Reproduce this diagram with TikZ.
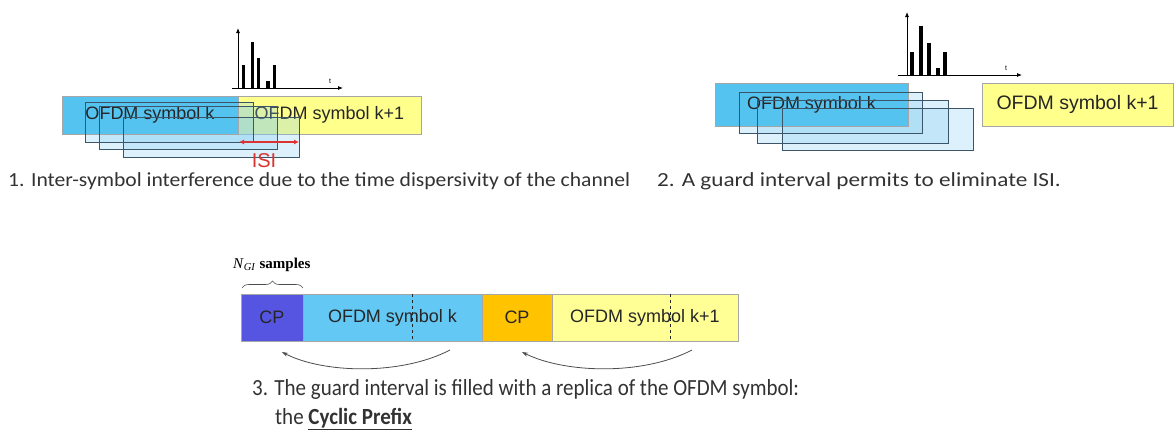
\documentclass[tikz,border=0pt]{standalone}
\usepackage{fontspec}
\setmainfont{Carlito}
\newfontfamily\arialf{Liberation Sans}
\newfontfamily\timesf{Liberation Serif}
\usetikzlibrary{arrows.meta,decorations.pathreplacing}
\definecolor{pblue}{RGB}{85,195,240}
\definecolor{pyel}{RGB}{255,255,140}
\definecolor{ghost}{RGB}{130,205,240}
\definecolor{ostroke}{RGB}{60,85,105}
\definecolor{cpviolet}{RGB}{85,85,225}
\definecolor{cporange}{RGB}{255,195,0}
\definecolor{p3blue}{RGB}{100,200,245}
\definecolor{p3yel}{RGB}{255,255,150}
\definecolor{captxt}{RGB}{50,50,50}
\definecolor{isired}{RGB}{220,50,50}
\tikzset{
  symbox/.style={draw=gray!70, line width=0.5pt, inner sep=0pt, outer sep=0pt, anchor=north west,
    font=\arialf\fontsize{18}{20}\selectfont, text=black!85},
  ghostbox/.style={inner sep=0pt, outer sep=0pt, anchor=north west, fill=ghost, fill opacity=0.28},
  ghostline/.style={draw=ostroke, line width=0.7pt},
  axisarrow/.style={line width=0.8pt, -{Latex[length=5pt,width=4pt]}},
  bar/.style={fill=black, draw=none},
  caption/.style={anchor=base west, inner sep=0pt, text=captxt},
  curvearrow/.style={draw=black!70, line width=0.8pt, -{Stealth[length=6pt,width=4pt]}}
}
\begin{document}
\begin{tikzpicture}[x=1pt,y=-1pt]
\useasboundingbox (0,0) rectangle (1176,432);
% ---------- Panel 1 ----------
\node[symbox, fill=pyel, minimum width=183, minimum height=38] (y1) at (238,96) {OFDM symbol k+1};
\node[ghostbox, minimum width=168, minimum height=40] (g1a) at (85,102) {};
\node[ghostbox, minimum width=178, minimum height=43] (g1b) at (99,106) {};
\node[ghostbox, minimum width=176, minimum height=40] (g1c) at (123,117) {};
\node[symbox, fill=pblue, minimum width=176, minimum height=38] (b1) at (62,96) {OFDM symbol k};
\draw[ghostline] (g1a.north west) rectangle (g1a.south east);
\draw[ghostline] (g1b.north west) rectangle (g1b.south east);
\draw[ghostline] (g1c.north west) rectangle (g1c.south east);
% axes
\coordinate (o1) at (238,88);
\coordinate (o1top) at (238,28);
\coordinate (o1l) at (232,88);
\coordinate (o1r) at (343,88);
\draw[axisarrow] (o1) -- (o1top);
\draw[axisarrow] (o1l) -- (o1r);
\node[font=\arialf\fontsize{7}{8}\selectfont, inner sep=0pt] (t1) at (330,81) {t};
\fill[bar] (241.5,88) rectangle (244.5,65);
\fill[bar] (250.5,88) rectangle (253.5,42);
\fill[bar] (256.5,88) rectangle (259.5,58);
\fill[bar] (266,88) rectangle (270,81);
\fill[bar] (272.5,88) rectangle (275.5,65);
% ISI
\coordinate (isiL) at (239,142);
\coordinate (isiR) at (299,142);
\draw[isired, line width=1.2pt, {Latex[length=5pt,width=5pt]}-{Latex[length=5pt,width=5pt]}] (isiL) -- (isiR);
\node[text=isired, font=\arialf\fontsize{20}{22}\selectfont, inner sep=0pt] (isi) at (264,161) {ISI};
\node[caption, font=\fontsize{20}{22}\selectfont] (cap1) at (8,186) {\scalebox{1.08}[1]{1. Inter-symbol interference due to the time dispersivity of the channel}};
% ---------- Panel 2 ----------
\node[ghostbox, minimum width=183, minimum height=41] (g2a) at (739,92) {};
\node[ghostbox, minimum width=191, minimum height=43] (g2b) at (757,100) {};
\node[ghostbox, minimum width=191, minimum height=42] (g2c) at (782,108) {};
\node[symbox, fill=pblue, minimum width=193, minimum height=43] (b2) at (715,83) {OFDM symbol k};
\draw[ghostline] (g2a.north west) rectangle (g2a.south east);
\draw[ghostline] (g2b.north west) rectangle (g2b.south east);
\draw[ghostline] (g2c.north west) rectangle (g2c.south east);
\node[symbox, fill=pyel, minimum width=191, minimum height=43, font=\arialf\fontsize{19.5}{22}\selectfont] (y2) at (982,83) {OFDM symbol k+1};
\coordinate (o2) at (907,75);
\coordinate (o2top) at (907,12);
\coordinate (o2l) at (898,75);
\coordinate (o2r) at (1022,75);
\draw[axisarrow] (o2) -- (o2top);
\draw[axisarrow] (o2l) -- (o2r);
\node[font=\arialf\fontsize{7}{8}\selectfont, inner sep=0pt] (t2) at (1006,68) {t};
\fill[bar] (910,75) rectangle (914,52);
\fill[bar] (919,75) rectangle (923,26);
\fill[bar] (927,75) rectangle (931,43);
\fill[bar] (936,75) rectangle (940,68);
\fill[bar] (943,75) rectangle (947,52);
\node[caption, font=\fontsize{20}{22}\selectfont] (cap2) at (657,186) {\scalebox{1.16}[1]{2. A guard interval permits to eliminate ISI.}};
% ---------- Panel 3 ----------
\node[symbox, fill=cpviolet, minimum width=62, minimum height=47] (cp1) at (241,294) {CP};
\node[symbox, fill=p3blue, minimum width=179, minimum height=47] (s1) at (303,294) {OFDM symbol k};
\node[symbox, fill=cporange, minimum width=70, minimum height=47] (cp2) at (482,294) {CP};
\node[symbox, fill=p3yel, minimum width=186, minimum height=47] (s2) at (552,294) {OFDM symbol k+1};
\draw[black!85, dashed, line width=0.6pt] (s1.north west -| 412,0) -- (s1.south west -| 412,0);
\draw[black!85, dashed, line width=0.6pt] (s2.north west -| 670,0) -- (s2.south west -| 670,0);
\coordinate (brL) at (242,288);
\coordinate (brR) at (303,288);
\draw[black!70, line width=0.6pt, decorate, decoration={brace, amplitude=7pt}] (brL) -- (brR);
\node[anchor=base west, inner sep=0pt, font=\timesf\fontsize{15}{17}\selectfont] (ngi) at (233,268) {\textit{N}\textsubscript{\textit{GI}} \textbf{samples}};
\coordinate (a1s) at (450,350);
\coordinate (a1e) at (282,352);
\coordinate (a2s) at (692,350);
\coordinate (a2e) at (522,352);
\draw[curvearrow] (a1s) .. controls (400,376) and (322,373) .. (a1e);
\draw[curvearrow] (a2s) .. controls (642,376) and (564,373) .. (a2e);
\node[caption, font=\fontsize{21}{23}\selectfont] (cap3) at (252,395) {\scalebox{1}[1.1]{3. The guard interval is filled with a replica of the OFDM symbol:}};
\node[caption, font=\fontsize{21}{23}\selectfont] (cap3b) at (275,424) {\scalebox{1}[1.1]{the \underline{\textbf{Cyclic Prefix}}}};
\end{tikzpicture}
\end{document}
